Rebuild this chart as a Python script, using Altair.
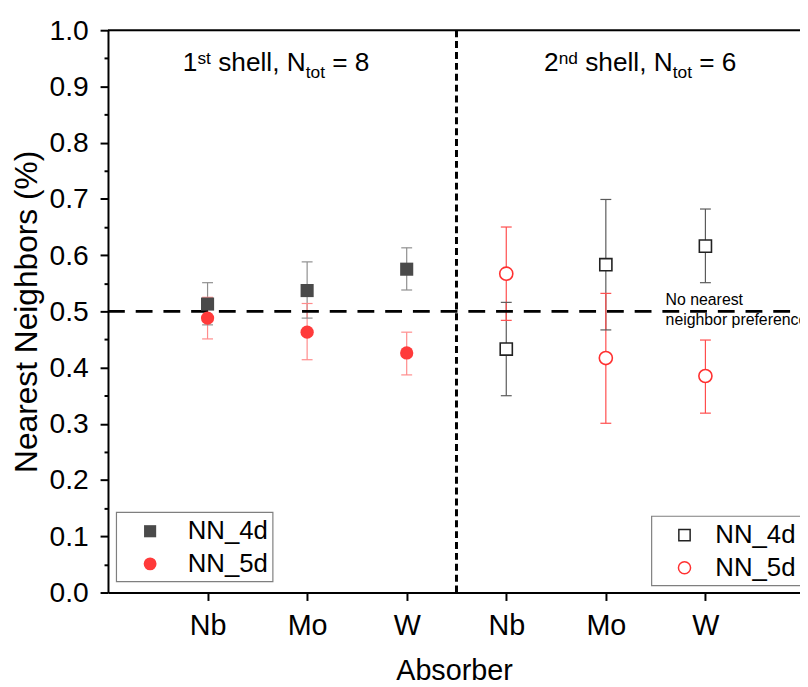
import altair as alt
import pandas as pd

FONT = "Liberation Sans"

# ---------------- data ----------------
elements = ["Nb", "Mo", "W"]
pos_shell1 = [1, 2, 3]
pos_shell2 = [4, 5, 6]

nn4d_s1 = [0.513, 0.537, 0.575]
nn4d_s1_lo = [0.476, 0.488, 0.538]
nn4d_s1_hi = [0.551, 0.588, 0.613]

nn5d_s1 = [0.488, 0.463, 0.426]
nn5d_s1_lo = [0.451, 0.414, 0.387]
nn5d_s1_hi = [0.525, 0.514, 0.463]

nn4d_s2 = [0.433, 0.583, 0.616]
nn4d_s2_lo = [0.350, 0.467, 0.551]
nn4d_s2_hi = [0.516, 0.699, 0.682]

nn5d_s2 = [0.567, 0.417, 0.385]
nn5d_s2_lo = [0.484, 0.301, 0.319]
nn5d_s2_hi = [0.650, 0.532, 0.449]

x_tick_labels = ["", "Nb", "Mo", "W", "Nb", "Mo", "W"]
y_title = "Nearest Neighbors (%)"
x_title = "Absorber"
reference_level = 0.5
shell_divider = 3.5
XMAX = 6.95

rows = []
for key, pos, v, lo, hi in [
    ("s1_4d", pos_shell1, nn4d_s1, nn4d_s1_lo, nn4d_s1_hi),
    ("s1_5d", pos_shell1, nn5d_s1, nn5d_s1_lo, nn5d_s1_hi),
    ("s2_4d", pos_shell2, nn4d_s2, nn4d_s2_lo, nn4d_s2_hi),
    ("s2_5d", pos_shell2, nn5d_s2, nn5d_s2_lo, nn5d_s2_hi),
]:
    for p, a, b, c in zip(pos, v, lo, hi):
        rows.append({"key": key, "x": p, "y": a, "lo": b, "hi": c})
df = pd.DataFrame(rows)

err_colors = {"s1_4d": "#8f8f8f", "s1_5d": "#ff8c8c", "s2_4d": "#5a5a5a", "s2_5d": "#ff4d4d"}

# ---------------- axes ----------------
xscale = alt.Scale(domain=[0, XMAX], nice=False, zero=False)
yscale = alt.Scale(domain=[0, 1], nice=False, zero=False)

major_test = "abs(datum.value*10 - round(datum.value*10)) < 0.001"
y_axis = alt.Axis(
    title=y_title,
    values=[round(i * 0.05, 2) for i in range(21)],
    labelExpr=f"{major_test} ? format(datum.value, '.1f') : ''",
    tickSize={"condition": {"test": major_test, "value": 8}, "value": 4},
    grid=False,
    domainColor="black", domainWidth=2,
    tickColor="black", tickWidth=2,
    labelFont=FONT, labelFontSize=28.5, labelColor="black", labelPadding=12,
    titleFont=FONT, titleFontSize=32, titleFontWeight="normal", titleColor="black",
    titlePadding=6,
)
x_axis = alt.Axis(
    title=x_title,
    values=[1, 2, 3, 4, 5, 6],
    labelExpr="%s[datum.value]" % str(x_tick_labels),
    tickSize=8, grid=False,
    domainColor="black", domainWidth=2,
    tickColor="black", tickWidth=2,
    labelFont=FONT, labelFontSize=29, labelColor="black", labelPadding=11,
    titleFont=FONT, titleFontSize=29, titleFontWeight="normal", titleColor="black",
    titlePadding=17,
)


def X(field="x"):
    return alt.X(f"{field}:Q", scale=xscale, axis=x_axis)


def Y(field="y"):
    return alt.Y(f"{field}:Q", scale=yscale, axis=y_axis)


color_enc = alt.Color("key:N", scale=alt.Scale(domain=list(err_colors), range=list(err_colors.values())), legend=None)

# error bars
err_rule = alt.Chart(df).mark_rule(strokeWidth=1.2).encode(
    x=X("x"), y=Y("lo"), y2="hi:Q", color=color_enc
)
cap_lo = alt.Chart(df).mark_tick(orient="horizontal", size=11, thickness=1.2, opacity=1).encode(
    x=X(), y=Y("lo"), color=color_enc
)
cap_hi = alt.Chart(df).mark_tick(orient="horizontal", size=11, thickness=1.2, opacity=1).encode(
    x=X(), y=Y("hi"), color=color_enc
)

pts_s1_4d = alt.Chart(df[df.key == "s1_4d"]).mark_point(
    shape="square", filled=True, size=175, color="#4a4a4a", opacity=1
).encode(x=X(), y=Y())
pts_s1_5d = alt.Chart(df[df.key == "s1_5d"]).mark_point(
    shape="circle", filled=True, size=180, color="#ff3a3a", opacity=1
).encode(x=X(), y=Y())
pts_s2_4d = alt.Chart(df[df.key == "s2_4d"]).mark_point(
    shape="square", filled=True, size=150, fill="white", stroke="#222222", strokeWidth=1.6, opacity=1
).encode(x=X(), y=Y())
pts_s2_5d = alt.Chart(df[df.key == "s2_5d"]).mark_point(
    shape="circle", filled=True, size=175, fill="white", stroke="#ff3030", strokeWidth=1.6, opacity=1
).encode(x=X(), y=Y())

# frame / reference lines
top_df = pd.DataFrame({"x": [0], "x2": [XMAX], "y": [1.0]})
top_line = alt.Chart(top_df).mark_rule(color="black", strokeWidth=2).encode(x=X(), x2="x2:Q", y=Y())

ref_df = pd.DataFrame({"x": [0], "x2": [XMAX], "y": [reference_level]})
ref_line = alt.Chart(ref_df).mark_rule(color="black", strokeWidth=3, strokeDash=[17, 11], clip=True).encode(
    x=X(), x2="x2:Q", y=Y()
)

div_df = pd.DataFrame({"x": [shell_divider], "y": [0.0], "y2": [1.0]})
div_line = alt.Chart(div_df).mark_rule(color="black", strokeWidth=3, strokeDash=[7, 4]).encode(
    x=X(), y=Y(), y2="y2:Q"
)

# annotation
ann_df = pd.DataFrame({"x": [5.60, 5.60], "y": [0.5106, 0.4754], "t": ["No nearest", "neighbor preference"]})
ann = alt.Chart(ann_df).mark_text(
    align="left", baseline="alphabetic", font=FONT, fontSize=16, color="black", clip=True
).encode(x=X(), y=Y(), text="t:N")

# headings with super/subscripts: pieces chained with pixel offsets
MAIN, SMALL = 26.5, 17.5
W = {"1": .556, "2": .556, "s": .5, "t": .278, "n": .556, "d": .556, "o": .556,
     "h": .556, "e": .556, "l": .222, ",": .278, " ": .278, "N": .722, "=": .584,
     "8": .556, "6": .556}


def text_width(s, size):
    return sum(W[c] for c in s) * size


SP = W[" "] * MAIN
heading_specs = [
    (0.752, [("1", MAIN, 0, 0), ("st", SMALL, -7, SP), ("shell, N", MAIN, 0, 0), ("tot", SMALL, 7, SP), ("= 8", MAIN, 0, 0)]),
    (4.380, [("2", MAIN, 0, 0), ("nd", SMALL, -7, SP), ("shell, N", MAIN, 0, 0), ("tot", SMALL, 7, SP), ("= 6", MAIN, 0, 0)]),
]
heading_y = 0.928
head_layers = []
for x0, pieces in heading_specs:
    off = 0.0
    for txt, size, dy, gap_after in pieces:
        head_layers.append(
            alt.Chart(pd.DataFrame({"x": [x0], "y": [heading_y], "t": [txt]})).mark_text(
                align="left", baseline="alphabetic", font=FONT, color="black",
                fontSize=size, dx=off, dy=dy,
            ).encode(x=X(), y=Y(), text="t:N")
        )
        off += text_width(txt, size) + gap_after

# hand-drawn legends
box_df = pd.DataFrame({"x": [0.085, 5.46], "x2": [1.656, XMAX + 0.6], "y": [0.1426, 0.1356], "y2": [0.0194, 0.0123]})
boxes = alt.Chart(box_df).mark_rect(fill="white", stroke="#7f7f7f", strokeWidth=1.2, clip=True).encode(
    x=X(), x2="x2:Q", y=Y(), y2="y2:Q"
)
leg_sq1 = alt.Chart(pd.DataFrame({"x": [0.423], "y": [0.109]})).mark_point(
    shape="square", filled=True, size=150, color="#4a4a4a", opacity=1).encode(x=X(), y=Y())
leg_ci1 = alt.Chart(pd.DataFrame({"x": [0.423], "y": [0.051]})).mark_point(
    shape="circle", filled=True, size=170, color="#ff3a3a", opacity=1).encode(x=X(), y=Y())
leg_sq2 = alt.Chart(pd.DataFrame({"x": [5.79], "y": [0.102]})).mark_point(
    shape="square", filled=True, size=130, fill="white", stroke="#222222", strokeWidth=1.5, opacity=1).encode(x=X(), y=Y())
leg_ci2 = alt.Chart(pd.DataFrame({"x": [5.79], "y": [0.044]})).mark_point(
    shape="circle", filled=True, size=150, fill="white", stroke="#ff3030", strokeWidth=1.5, opacity=1).encode(x=X(), y=Y())
leg_txt_df = pd.DataFrame({
    "x": [0.801, 0.801, 6.10, 6.10],
    "y": [0.109, 0.051, 0.102, 0.044],
    "t": ["NN_4d", "NN_5d", "NN_4d", "NN_5d"],
})
leg_txt = alt.Chart(leg_txt_df).mark_text(
    align="left", baseline="middle", font=FONT, fontSize=26, color="black", clip=True
).encode(x=X(), y=Y(), text="t:N")

chart = alt.layer(
    err_rule, top_line, div_line, ref_line, ann, cap_lo, cap_hi,
    pts_s1_4d, pts_s1_5d, pts_s2_4d, pts_s2_5d,
    boxes, leg_sq1, leg_ci1, leg_sq2, leg_ci2, leg_txt, *head_layers,
).properties(
    width=699, height=568,
    autosize=alt.AutoSizeParams(type="none"),
    padding={"left": 101, "top": 19, "right": 0, "bottom": 92},
).configure_view(stroke=None).configure(background="white")

chart.save("out.html", embed_options={"renderer": "svg", "actions": False})
